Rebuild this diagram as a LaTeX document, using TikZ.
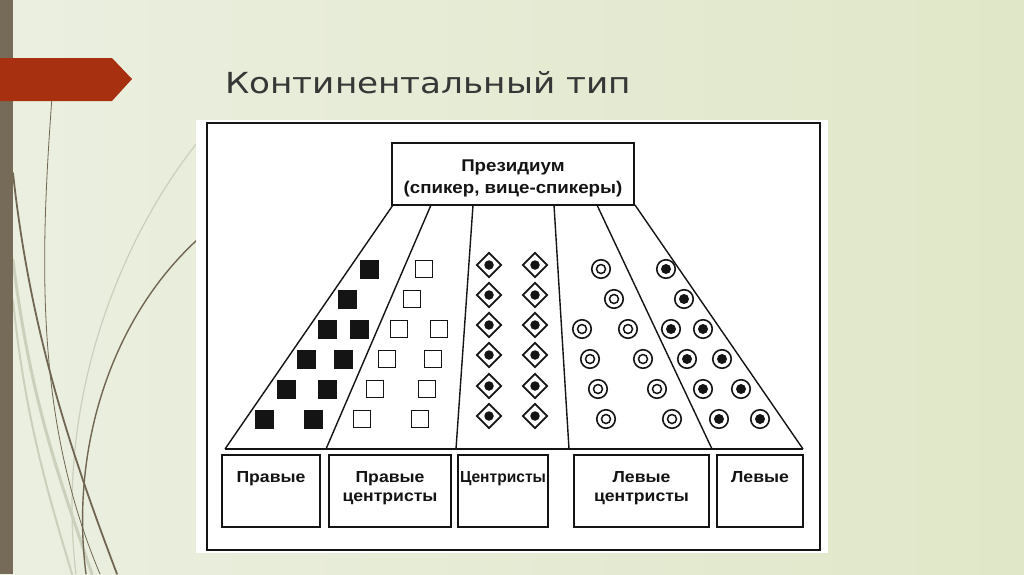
\documentclass[tikz,border=0pt]{standalone}
\usepackage{fontspec}
\setmainfont{Liberation Sans}
\newfontfamily\titlefont{DejaVu Sans}
\newfontfamily\diagfont[FakeStretch=1.1,BoldFeatures={FakeStretch=1.1}]{Liberation Sans}
\usetikzlibrary{shapes.geometric}
\definecolor{bgL}{RGB}{235,239,224}
\definecolor{bgR}{RGB}{224,231,200}
\definecolor{barC}{RGB}{117,107,88}
\definecolor{redC}{RGB}{166,48,15}
\definecolor{titleC}{RGB}{55,55,55}
\definecolor{curveC}{RGB}{112,102,82}
\definecolor{fadeC}{RGB}{203,208,188}
\definecolor{inkC}{RGB}{20,20,20}
\tikzset{
  ink/.style={line width=1.4pt, draw=inkC},
  boxnode/.style={ink, rectangle, inner sep=0pt},
  lbl/.style={font=\diagfont\bfseries\fontsize{16}{19.5}\selectfont, text=inkC, align=center, inner sep=0pt, anchor=north},
  blacksq/.style={rectangle, fill=inkC, minimum size=19pt, inner sep=0pt},
  whitesq/.style={rectangle, draw=inkC, line width=1.5pt, minimum size=17pt, inner sep=0pt},
  diam/.style={diamond, draw=inkC, line width=1.7pt, minimum width=25pt, minimum height=25pt, inner sep=0pt},
  dotfill/.style={circle, fill=inkC, minimum size=9.5pt, inner sep=0pt},
  ringout/.style={circle, draw=inkC, line width=1.6pt, minimum size=18.5pt, inner sep=0pt},
  ringin/.style={circle, draw=inkC, line width=1.5pt, minimum size=9pt, inner sep=0pt},
  curve/.style={draw=curveC, line cap=round},
  fade/.style={draw=fadeC, line cap=round}
}
\begin{document}
\begin{tikzpicture}[x=1pt,y=-1pt]
\useasboundingbox (0,0) rectangle (1024,574);
\shade[left color=bgL, right color=bgR] (0,0) rectangle (1024,574);
% decorative curves
\draw[fade, line width=3pt] (13,260) .. controls (30,400) and (60,480) .. (92,574);
\draw[fade, line width=2pt] (13,300) .. controls (25,420) and (50,500) .. (72,574);
\draw[fade, line width=1.2pt] (197,143) .. controls (120,240) and (55,400) .. (76,574);
\draw[curve, line width=0.8pt] (52,97) .. controls (40,260) and (35,420) .. (100,574);
\draw[curve, line width=1.8pt] (13,173) .. controls (30,330) and (70,450) .. (117,574);
\draw[curve, line width=1.4pt] (197,240) .. controls (110,320) and (70,450) .. (86,574);
% left bar and red arrow
\fill[barC] (0,0) rectangle (13,574);
\fill[redC] (0,58) -- (112,58) -- (132,79) -- (112,101) -- (0,101) -- cycle;
% title
\node[anchor=base west, inner sep=0pt, text=titleC, font=\titlefont\fontsize{29}{34}\selectfont] (title) at (225,93) {\scalebox{1.18}[1]{Континентальный тип}};
% white picture
\fill[white] (196,120) rectangle (828,553);
\draw[ink] (207,123) rectangle (820,550);
% presidium
\node[boxnode, minimum width=242pt, minimum height=62pt] (pres) at (513,174) {};
\node[align=center, inner sep=0pt, anchor=base, font=\diagfont\bfseries\fontsize{17}{22}\selectfont, text=inkC] (prestxt) at (513,193) {Президиум\\(спикер, вице-спикеры)};
% fan coordinates
\coordinate (t1) at (393,205);
\coordinate (t2) at (431,205);
\coordinate (t3) at (473,205);
\coordinate (t4) at (554,205);
\coordinate (t5) at (597,205);
\coordinate (t6) at (635,205);
\coordinate (u1) at (225,449);
\coordinate (u2) at (326,449);
\coordinate (u3) at (456,449);
\coordinate (u4) at (569,449);
\coordinate (u5) at (712,449);
\coordinate (u6) at (803,449);
\draw[ink] (t1) -- (u1);
\draw[ink] (t2) -- (u2);
\draw[ink] (t3) -- (u3);
\draw[ink] (t4) -- (u4);
\draw[ink] (t5) -- (u5);
\draw[ink] (t6) -- (u6);
\draw[ink] (u1) -- (u6);
% bottom boxes
\node[boxnode, minimum width=98pt, minimum height=72pt] (b1) at (271,491) {};
\node[boxnode, minimum width=122pt, minimum height=72pt] (b2) at (390,491) {};
\node[boxnode, minimum width=90pt, minimum height=72pt] (b3) at (503,491) {};
\node[boxnode, minimum width=135pt, minimum height=72pt] (b4) at (641.5,491) {};
\node[boxnode, minimum width=86pt, minimum height=72pt] (b5) at (760,491) {};
\node[lbl] (l1) at (271,471) {Правые};
\node[lbl] (l2) at (390,471) {Правые\\центристы};
\node[lbl] (l3) at (503,471) {\resizebox{86pt}{\height}{Центристы}};
\node[lbl] (l4) at (641.5,471) {Левые\\центристы};
\node[lbl] (l5) at (760,471) {Левые};
% black squares
\foreach \x/\y [count=\i] in {369/269,347/299,327/329,359/329,306/359,343/359,286/389,327/389,264/419,313/419}
  \node[blacksq] (bs\i) at (\x,\y) {};
% white squares
\foreach \x/\y [count=\i] in {424/269,412/299,399/329,439/329,387/359,433/359,375/389,427/389,362/419,420/419}
  \node[whitesq] (ws\i) at (\x,\y) {};
% diamonds
\foreach \y [count=\i] in {265,295,325,355,386,416} {
  \node[diam] (da\i) at (489,\y) {};
  \node[dotfill] (dd\i) at (489,\y) {};
  \node[diam] (db\i) at (535,\y) {};
  \node[dotfill] (de\i) at (535,\y) {};
}
% rings
\foreach \x/\y [count=\i] in {601/269,614/299,582/329,628/329,590/359,643/359,598/389,657/389,606/419,672/419} {
  \node[ringout] (ro\i) at (\x,\y) {};
  \node[ringin] (ri\i) at (\x,\y) {};
}
% dotted rings
\foreach \x/\y [count=\i] in {666/269,684/299,671/329,703/329,687/359,722/359,703/389,741/389,719/419,760/419} {
  \node[ringout] (po\i) at (\x,\y) {};
  \node[circle, fill=inkC, minimum size=10pt, inner sep=0pt] (pi\i) at (\x,\y) {};
}
\end{tikzpicture}
\end{document}
